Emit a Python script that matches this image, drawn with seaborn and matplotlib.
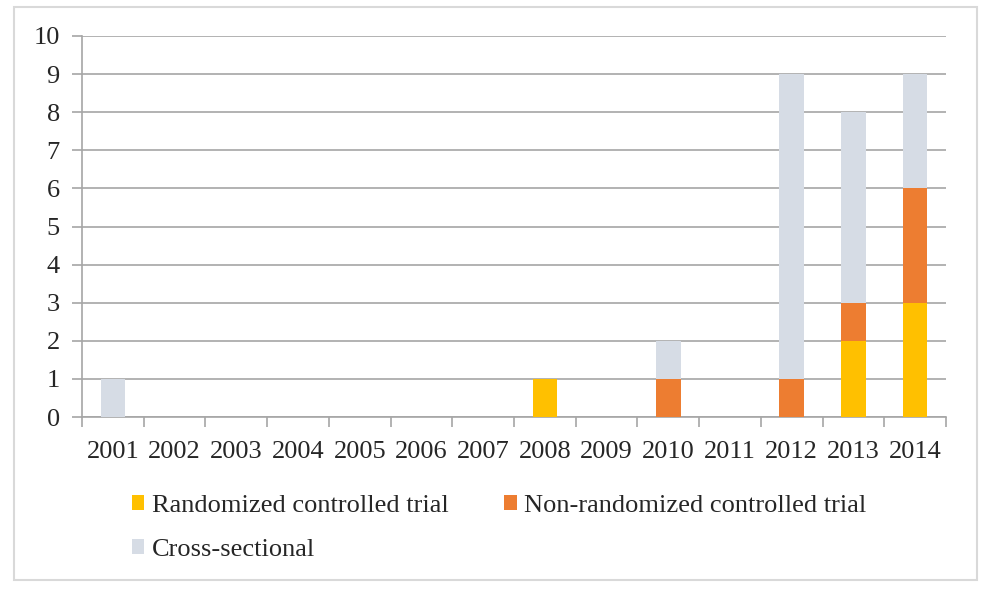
import numpy as np
import pandas as pd
import matplotlib
matplotlib.use("Agg")
import matplotlib.pyplot as plt
import seaborn as sns
from matplotlib.patches import Patch, Rectangle

years = ["2001", "2002", "2003", "2004", "2005", "2006", "2007",
         "2008", "2009", "2010", "2011", "2012", "2013", "2014"]
rct = [0, 0, 0, 0, 0, 0, 0, 1, 0, 0, 0, 0, 2, 3]
non_rct = [0, 0, 0, 0, 0, 0, 0, 0, 0, 1, 0, 1, 1, 3]
cross = [1, 0, 0, 0, 0, 0, 0, 0, 0, 1, 0, 8, 5, 3]

labels = ["Randomized controlled trial", "Non-randomized controlled trial", "Cross-sectional"]
colors = ["#FFC000", "#ED7D31", "#D6DCE5"]

sns.set_style("white")
plt.rcParams["font.family"] = ["Liberation Serif", "DejaVu Serif"]

df = pd.DataFrame({"year": years, "rct": rct, "non_rct": non_rct, "cross": cross})

fig = plt.figure(figsize=(9.81, 5.9), dpi=100)
ax = fig.add_axes([82 / 981, 1 - 417 / 590, 864 / 981, 381 / 590])

bottom = np.zeros(len(years))
for col, color in zip(["rct", "non_rct", "cross"], colors):
    sns.barplot(data=df, x="year", y=col, order=years, color=color,
                width=0.4, bottom=bottom, ax=ax, saturation=1, zorder=3,
                linewidth=0, edgecolor="none")
    bottom = bottom + df[col].to_numpy()

ax.set_ylim(0, 10)
ax.set_xlim(-0.5, len(years) - 0.5)
ax.set_yticks(range(0, 11))
ax.yaxis.grid(True, color="#A6A6A6", linewidth=1.2, zorder=0)
ax.set_xlabel("")
ax.set_ylabel("")

for s in ["top", "right"]:
    ax.spines[s].set_visible(False)
for s in ["left", "bottom"]:
    ax.spines[s].set_color("#A6A6A6")
    ax.spines[s].set_linewidth(1.2)

ax.tick_params(axis="y", which="major", length=7, color="#A6A6A6", width=1.2,
               labelsize=19, pad=9, left=True)
ax.tick_params(axis="x", which="major", length=0, labelsize=19, pad=17.5)
ax.set_xticks(np.arange(-0.5, len(years)), minor=True)
ax.tick_params(axis="x", which="minor", length=7, color="#A6A6A6", width=1.2, bottom=True)

# column-major legend order so rows read RCT, Non-RCT / Cross-sectional
order = [0, 2, 1]
handles = [Patch(facecolor=colors[i], edgecolor="none") for i in order]
fig.legend(handles, [labels[i] for i in order], ncol=2, loc="upper left",
           bbox_to_anchor=(121 / 981, 1 - 484 / 590), frameon=False,
           fontsize=19, handlelength=0.49, handleheight=0.49, handletextpad=0.27,
           columnspacing=2.1, labelspacing=0.86, borderaxespad=0)

fig.patches.append(Rectangle((14 / 981, 1 - 580 / 590), 963 / 981, 573 / 590,
                             transform=fig.transFigure, fill=False,
                             edgecolor="#D9D9D9", linewidth=1.5))

fig.savefig("out.png", dpi=100)
